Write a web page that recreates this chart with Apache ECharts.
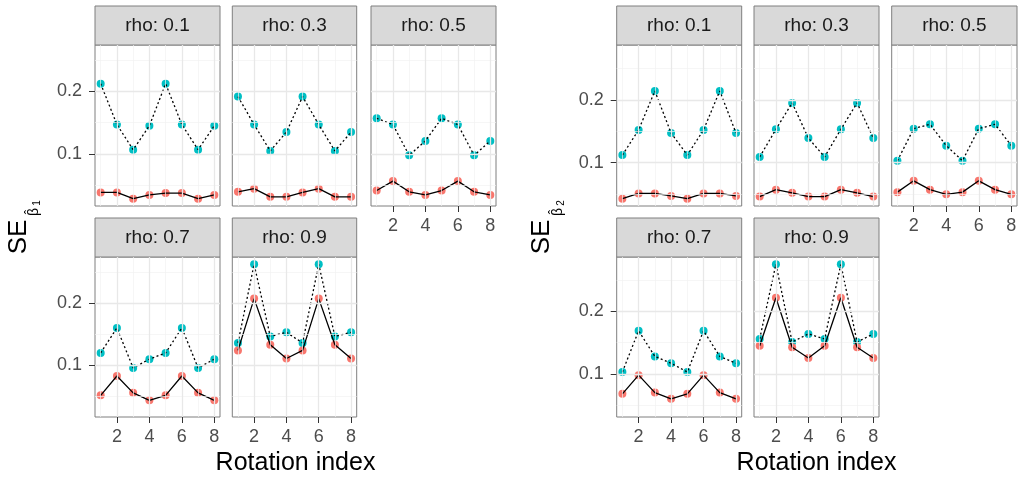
<!DOCTYPE html>
<html>
<head>
<meta charset="utf-8">
<script src="https://cdn.jsdelivr.net/npm/echarts@6/dist/echarts.min.js"></script>
<style>
  html, body { margin: 0; padding: 0; background: #fff; }
  #chart { width: 1021px; height: 481px; }
</style>
</head>
<body>
<div id="chart"></div>
<script>
// 数据区
const rotation = [1, 2, 3, 4, 5, 6, 7, 8];
const rhoLabels = ['rho: 0.1', 'rho: 0.3', 'rho: 0.5', 'rho: 0.7', 'rho: 0.9'];
const xTicks = [2, 4, 6, 8];
const yTicks = [0.1, 0.2];
const xMinor = [1, 3, 5, 7];
const yMinor = [0.05, 0.15, 0.25];

// beta1 (左)
const b1Cyan = [
  [0.212, 0.147, 0.107, 0.145, 0.212, 0.147, 0.107, 0.145],
  [0.1915, 0.147, 0.105, 0.135, 0.1915, 0.147, 0.105, 0.135],
  [0.157, 0.147, 0.098, 0.121, 0.157, 0.147, 0.098, 0.121],
  [0.120, 0.160, 0.096, 0.110, 0.120, 0.160, 0.096, 0.110],
  [0.136, 0.262, 0.1465, 0.153, 0.136, 0.262, 0.1465, 0.153]
];
const b1Red = [
  [0.039, 0.039, 0.029, 0.035, 0.038, 0.038, 0.029, 0.035],
  [0.040, 0.045, 0.032, 0.032, 0.039, 0.045, 0.032, 0.032],
  [0.042, 0.057, 0.040, 0.035, 0.042, 0.057, 0.040, 0.035],
  [0.052, 0.083, 0.056, 0.044, 0.052, 0.083, 0.056, 0.044],
  [0.124, 0.207, 0.133, 0.111, 0.124, 0.207, 0.133, 0.111]
];
// beta2 (右)
const b2Cyan = [
  [0.112, 0.152, 0.214, 0.147, 0.112, 0.152, 0.214, 0.147],
  [0.109, 0.153, 0.195, 0.139, 0.109, 0.153, 0.195, 0.139],
  [0.103, 0.154, 0.161, 0.127, 0.103, 0.154, 0.161, 0.127],
  [0.103, 0.169, 0.128, 0.117, 0.103, 0.169, 0.128, 0.117],
  [0.156, 0.2755, 0.151, 0.164, 0.156, 0.2755, 0.151, 0.164]
];
const b2Red = [
  [0.0426, 0.051, 0.051, 0.047, 0.0426, 0.051, 0.051, 0.047],
  [0.046, 0.057, 0.052, 0.046, 0.046, 0.057, 0.052, 0.046],
  [0.053, 0.071, 0.057, 0.0495, 0.053, 0.071, 0.057, 0.0495],
  [0.068, 0.098, 0.070, 0.060, 0.068, 0.098, 0.070, 0.060],
  [0.145, 0.222, 0.1426, 0.1255, 0.145, 0.222, 0.1426, 0.1255]
];

const FONT = '"Liberation Sans", Arial, sans-serif';
const CYAN = '#00BFC4';
const RED = '#F8766D';

// 布局
const colsLeft = [[95, 125], [232.3, 124.4], [371, 125]];
const colsRight = [[616.7, 125], [754, 125], [891.7, 125.3]];
const rows = [[45, 161], [257, 160]];
const stripH = 39;

const grid = [], xAxis = [], yAxis = [], series = [], graphic = [];

function expandRange(arrs) {
  const all = arrs.flat(2);
  const lo = Math.min(...all), hi = Math.max(...all);
  const pad = (hi - lo) * 0.05;
  return [lo - pad, hi + pad];
}

function addGroup(cols, cyanData, redData) {
  const yr = expandRange([cyanData, redData]);
  for (let p = 0; p < 5; p++) {
    const r = Math.floor(p / 3), c = p % 3;
    const [left, width] = cols[c];
    const [top, height] = rows[r];
    const gi = grid.length;
    grid.push({
      left: left, top: top, width: width, height: height,
      show: true, borderColor: '#7f7f7f', borderWidth: 1, backgroundColor: '#fff'
    });
    const bottomRow = (r === 1) || (c === 2);
    xAxis.push({
      type: 'value', gridIndex: gi, min: 0.65, max: 8.35,
      axisLine: { show: false },
      splitLine: { show: false },
      axisTick: { show: bottomRow, length: 6, customValues: xTicks, lineStyle: { color: '#333' } },
      axisLabel: {
        show: bottomRow, customValues: xTicks, margin: 11,
        color: '#4d4d4d', fontSize: 18, fontFamily: FONT
      }
    });
    yAxis.push({
      type: 'value', gridIndex: gi, min: yr[0], max: yr[1],
      axisLine: { show: false },
      splitLine: { show: false },
      axisTick: { show: c === 0, length: 6, customValues: yTicks, lineStyle: { color: '#333' } },
      axisLabel: {
        show: c === 0, customValues: yTicks, margin: 13,
        color: '#4d4d4d', fontSize: 18, fontFamily: FONT,
        formatter: v => v.toFixed(1)
      }
    });
    const cyanPts = rotation.map((x, i) => [x, cyanData[p][i]]);
    const redPts = rotation.map((x, i) => [x, redData[p][i]]);
    const gl = [];
    xMinor.forEach(v => gl.push({ xAxis: v, lineStyle: { color: '#f2f2f2', width: 0.7, type: 'solid' } }));
    yMinor.forEach(v => gl.push({ yAxis: v, lineStyle: { color: '#f2f2f2', width: 0.7, type: 'solid' } }));
    xTicks.forEach(v => gl.push({ xAxis: v, lineStyle: { color: '#e8e8e8', width: 1.3, type: 'solid' } }));
    yTicks.forEach(v => gl.push({ yAxis: v, lineStyle: { color: '#e8e8e8', width: 1.3, type: 'solid' } }));
    // 网格线
    series.push({
      type: 'line', xAxisIndex: gi, yAxisIndex: gi, z: 1, silent: true,
      data: cyanPts, symbol: 'none', lineStyle: { opacity: 0 },
      markLine: { silent: true, symbol: ['none', 'none'], label: { show: false }, animation: false, data: gl }
    });
    // 点
    series.push({
      type: 'scatter', xAxisIndex: gi, yAxisIndex: gi, z: 2, silent: true,
      data: cyanPts, symbolSize: 8, itemStyle: { color: CYAN, opacity: 1, borderWidth: 0 }
    });
    series.push({
      type: 'scatter', xAxisIndex: gi, yAxisIndex: gi, z: 2, silent: true,
      data: redPts, symbolSize: 8, itemStyle: { color: RED, opacity: 1, borderWidth: 0 }
    });
    // 线
    series.push({
      type: 'line', xAxisIndex: gi, yAxisIndex: gi, z: 3, silent: true,
      data: cyanPts, symbol: 'none',
      lineStyle: { color: '#000', width: 1.3, type: [2, 2.5] }
    });
    series.push({
      type: 'line', xAxisIndex: gi, yAxisIndex: gi, z: 3, silent: true,
      data: redPts, symbol: 'none',
      lineStyle: { color: '#000', width: 1.3 }
    });
    // 分面标签
    graphic.push({
      type: 'rect', shape: { x: left, y: top - stripH, width: width, height: stripH },
      style: { fill: '#d9d9d9', stroke: '#7f7f7f', lineWidth: 1 }
    });
    graphic.push({
      type: 'text', x: left + width / 2, y: top - stripH / 2,
      style: { text: rhoLabels[p], fill: '#1a1a1a', font: '19px ' + FONT, textAlign: 'center', textVerticalAlign: 'middle' }
    });
  }
}

addGroup(colsLeft, b1Cyan, b1Red);
addGroup(colsRight, b2Cyan, b2Red);

// 轴标题
function rotText(x, y, text, size) {
  return {
    type: 'text', x: x, y: y, rotation: Math.PI / 2,
    style: { text: text, fill: '#000', font: size + 'px ' + FONT, textAlign: 'center', textVerticalAlign: 'middle' }
  };
}
[[0, '1'], [523.5, '2']].forEach(([dx, sub]) => {
  graphic.push(rotText(18.5 + dx, 237, 'SE', 26));
  graphic.push(rotText(34.5 + dx, 212, 'β', 14));
  graphic.push(rotText(30.5 + dx, 212, 'ˆ', 13));
  graphic.push(rotText(37.5 + dx, 203, sub, 10));
});
[[295.5], [816.5]].forEach(([cx]) => {
  graphic.push({
    type: 'text', x: cx, y: 463,
    style: { text: 'Rotation index', fill: '#000', font: '25px ' + FONT, textAlign: 'center', textVerticalAlign: 'middle' }
  });
});

const chart = echarts.init(document.getElementById('chart'));
chart.setOption({
  animation: false,
  backgroundColor: '#fff',
  grid: grid,
  xAxis: xAxis,
  yAxis: yAxis,
  series: series,
  graphic: graphic
});
</script>
</body>
</html>
